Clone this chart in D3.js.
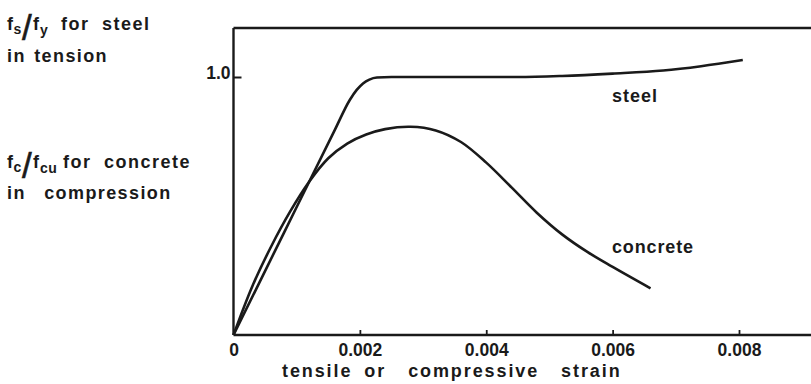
<!DOCTYPE html>
<html>
<head>
<meta charset="utf-8">
<script src="https://cdn.jsdelivr.net/npm/d3@7"></script>
<style>
  html, body { margin: 0; padding: 0; background: #fff; }
  svg { display: block; }
  text { font-family: "Liberation Sans", Arial, Helvetica, sans-serif; font-weight: bold; fill: #1a1a1a; }
</style>
</head>
<body>
<svg id="chart" width="811" height="384"></svg>
<script>
// ---- data ----
const steelStrain  = [0, 0.0008, 0.0016, 0.00184, 0.00195, 0.00205, 0.00215, 0.00227, 0.0025, 0.0035, 0.0045, 0.0052, 0.006, 0.0068, 0.0074, 0.00806];
const steelStress  = [0, 0.397, 0.793, 0.911, 0.950, 0.975, 0.990, 0.998, 1.000, 1.000, 1.000, 1.004, 1.013, 1.025, 1.042, 1.066];
const concreteStrain = [0, 0.0003, 0.0006, 0.0009, 0.0012, 0.0015, 0.0018, 0.0021, 0.0024, 0.0028, 0.0032, 0.0036, 0.004, 0.0044, 0.0048, 0.0052, 0.0056, 0.006, 0.0066];
const concreteStress = [0, 0.19, 0.345, 0.48, 0.595, 0.685, 0.742, 0.777, 0.798, 0.807, 0.793, 0.748, 0.668, 0.572, 0.474, 0.39, 0.322, 0.264, 0.181];
const xTickValues = [0, 0.002, 0.004, 0.006, 0.008];
const xTickLabels = ["0", "0.002", "0.004", "0.006", "0.008"];
const yTickValues = [1.0];
const yTickLabels = ["1.0"];

const svg = d3.select("#chart");
const x = d3.scaleLinear().domain([0, 0.008]).range([233.5, 739]);
const y = d3.scaleLinear().domain([0, 1]).range([335, 77]);
const ink = "#1a1a1a";

// frame lines (left axis, top, bottom)
const frame = svg.append("g").attr("stroke", ink).attr("stroke-width", 2.4).attr("fill", "none");
frame.append("path").attr("d", `M${x(0)},28 V${y(0)}`);
frame.append("path").attr("d", `M${x(0)},28 H811`);
frame.append("path").attr("d", `M${x(0)},${y(0)} H811`);

// x axis
const xAxis = d3.axisBottom(x)
  .tickValues(xTickValues)
  .tickSize(-5)
  .tickPadding(9)
  .tickFormat((d, i) => xTickLabels[i]);
const gx = svg.append("g").attr("transform", `translate(0,${y(0)})`).call(xAxis);
gx.select(".domain").remove();
gx.selectAll(".tick line").attr("stroke", ink).attr("stroke-width", 1.8);
gx.selectAll(".tick text").attr("font-size", 17.5).attr("fill", ink)
  .style("font-family", '"Liberation Sans", Arial, sans-serif').style("font-weight", "bold");

// y axis
const yAxis = d3.axisLeft(y)
  .tickValues(yTickValues)
  .tickSize(-8)
  .tickPadding(3)
  .tickFormat((d, i) => yTickLabels[i]);
const gy = svg.append("g").attr("transform", `translate(${x(0)},0)`).call(yAxis);
gy.select(".domain").remove();
gy.selectAll(".tick line").attr("stroke", ink).attr("stroke-width", 2);
gy.selectAll(".tick text").attr("font-size", 17.5).attr("fill", ink).attr("dy", "0.06em")
  .style("font-family", '"Liberation Sans", Arial, sans-serif').style("font-weight", "bold");

// curves
const steelLine = d3.line().x(d => x(d[0])).y(d => y(d[1])).curve(d3.curveMonotoneX);
const concreteLine = d3.line().x(d => x(d[0])).y(d => y(d[1])).curve(d3.curveCatmullRom.alpha(0.5));
svg.append("path")
  .datum(steelStrain.map((s, i) => [s, steelStress[i]]))
  .attr("d", steelLine).attr("fill", "none").attr("stroke", ink).attr("stroke-width", 2.6);
svg.append("path")
  .datum(concreteStrain.map((s, i) => [s, concreteStress[i]]))
  .attr("d", concreteLine).attr("fill", "none").attr("stroke", ink).attr("stroke-width", 2.6);

// series labels
svg.append("text").attr("x", 612).attr("y", 101.5).attr("font-size", 18).attr("letter-spacing", 1).text("steel");
svg.append("text").attr("x", 612).attr("y", 252.5).attr("font-size", 18).attr("letter-spacing", 0.85).text("concrete");

// x axis title
const xt = svg.append("text").attr("x", 282).attr("y", 377).attr("font-size", 18).attr("letter-spacing", 1.9);
xt.append("tspan").text("tensile");
xt.append("tspan").attr("dx", 12).text("or");
xt.append("tspan").attr("dx", 22).text("compressive");
xt.append("tspan").attr("dx", 22).text("strain");

// y axis titles
function ratioLabel(sub1, sub2, rest, line2, yb, y2, restX, ws2) {
  const g = svg.append("g");
  g.append("text").attr("x", 7).attr("y", yb).attr("font-size", 18).text("f");
  g.append("text").attr("x", 13.5).attr("y", yb + 4).attr("font-size", 14).text(sub1);
  g.append("text").attr("x", 22).attr("y", yb + 10).attr("font-size", 35)
    .style("font-weight", "normal").attr("stroke", ink).attr("stroke-width", 0.6).text("/");
  g.append("text").attr("x", 33).attr("y", yb).attr("font-size", 18).text("f");
  g.append("text").attr("x", 40).attr("y", yb + 5).attr("font-size", 14).attr("letter-spacing", 0.5).text(sub2);
  g.append("text").attr("x", restX).attr("y", yb).attr("font-size", 18).attr("letter-spacing", 1.5).attr("word-spacing", 6).text(rest);
  g.append("text").attr("x", 7).attr("y", y2).attr("font-size", 18).attr("letter-spacing", 1.4).attr("word-spacing", ws2).text(line2);
}
ratioLabel("s", "y", "for steel", "in tension", 29.5, 61.5, 61, 2);
ratioLabel("c", "cu", "for concrete", "in compression", 167.5, 199, 63, 12);
</script>
</body>
</html>
